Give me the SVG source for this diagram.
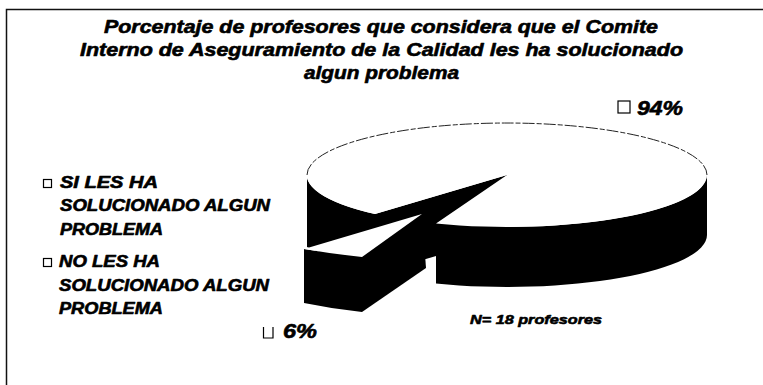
<svg xmlns="http://www.w3.org/2000/svg" width="763" height="385" viewBox="0 0 763 385">
<style>
.t{font-family:"Liberation Sans",Arial,sans-serif;font-weight:bold;font-style:italic;fill:#000;stroke:#000;stroke-width:0.6;stroke-linejoin:round}
.side{fill:#000}
.top{fill:#fff}
.box{fill:#fff;stroke:#000;stroke-width:1.2}
.frame{stroke:#111;stroke-width:1.5;fill:none}
</style>
<rect width="763" height="385" fill="#fff"/>
<g id="frame">
<path class="frame" d="M6.5,385 V9.5 H763"/>
</g>
<g id="title">
<text class="t" font-size="18" x="104" y="33" textLength="554" lengthAdjust="spacingAndGlyphs">Porcentaje de profesores que considera que el Comite</text>
<text class="t" font-size="18" x="80" y="56" textLength="603" lengthAdjust="spacingAndGlyphs">Interno de Aseguramiento de la Calidad les ha solucionado</text>
<text class="t" font-size="18" x="304" y="79" textLength="155" lengthAdjust="spacingAndGlyphs">algun problema</text>
</g>
<g id="slice-si">
<path class="side" d="M307,175 A200,52 0 0 0 375,214.1 L375,274.1 L307,247 Z"/>
<path class="side" d="M507,175 L375,214.1 L375,274.1 L507,235 Z"/>
<path class="side" d="M436,223.6 A200,52 0 0 0 707,175 L707,235 A200,52 0 0 1 436,283.6 Z"/>
<path class="top" d="M507,175 L375,214.1 A200,52 0 1 1 436,223.6 Z"/>
<path d="M307,175 A200,52 0 0 1 707,175" fill="none" stroke="#222" stroke-width="1" stroke-dasharray="12 2 5 2"/>
</g>
<g id="slice-no">
<path class="side" d="M304,249 Q333,254 362,257 L362,312 Q333,309 304,303 Z"/>
<path class="side" d="M362,257 L422,214 L426,268 L362,312 Z"/>
<path class="top" d="M304,249 Q333,254 362,257 L422,214 Z"/>
</g>
<g id="label-94">
<rect class="box" x="618" y="101" width="12" height="12"/>
<text class="t" font-size="20" x="637" y="115" textLength="46" lengthAdjust="spacingAndGlyphs">94%</text>
</g>
<g id="label-6">
<path d="M263.5,327 V338 H273 V327" fill="none" stroke="#000" stroke-width="1.2"/>
<text class="t" font-size="20" x="283" y="338" textLength="34" lengthAdjust="spacingAndGlyphs">6%</text>
</g>
<g id="legend-si">
<rect class="box" x="43.5" y="179.5" width="8" height="8"/>
<text class="t" font-size="16" x="60" y="188" textLength="98" lengthAdjust="spacingAndGlyphs">SI LES HA</text>
<text class="t" font-size="16" x="60" y="211" textLength="210" lengthAdjust="spacingAndGlyphs">SOLUCIONADO ALGUN</text>
<text class="t" font-size="16" x="60" y="235" textLength="103" lengthAdjust="spacingAndGlyphs">PROBLEMA</text>
</g>
<g id="legend-no">
<rect class="box" x="43.5" y="258.5" width="8" height="8"/>
<text class="t" font-size="16" x="59" y="267" textLength="101" lengthAdjust="spacingAndGlyphs">NO LES HA</text>
<text class="t" font-size="16" x="59" y="291" textLength="210" lengthAdjust="spacingAndGlyphs">SOLUCIONADO ALGUN</text>
<text class="t" font-size="16" x="59" y="314" textLength="104" lengthAdjust="spacingAndGlyphs">PROBLEMA</text>
</g>
<g id="note">
<text class="t" font-size="13" x="470" y="324" textLength="132" lengthAdjust="spacingAndGlyphs">N= 18 profesores</text>
</g>
<g id="connectors"/>
</svg>
